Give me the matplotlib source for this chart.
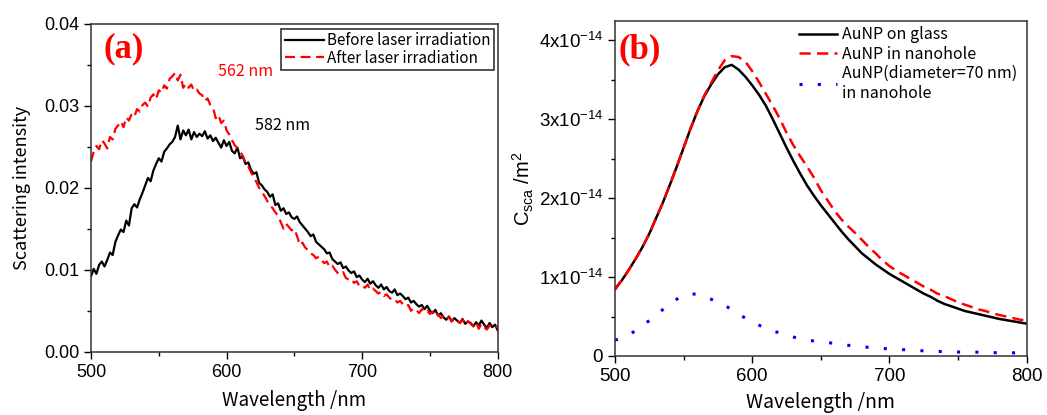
import numpy as np
import matplotlib
matplotlib.use("Agg")
import matplotlib.pyplot as plt
from matplotlib.ticker import MultipleLocator, FuncFormatter

# ---- panel (a): measured scattering spectra, 2 nm steps from 500 to 800 nm
wl_a = np.arange(500, 801, 2)
before = [
    .0092, .0101, .0095, .0106, .0110, .0104, .0112, .0121, .0118, .0134,
    .0142, .0149, .0146, .0160, .0154, .0175, .0180, .0176, .0186, .0194,
    .0203, .0212, .0208, .0221, .0229, .0236, .0232, .0244, .0248, .0253,
    .0256, .0262, .0276, .0259, .0270, .0264, .0271, .0259, .0268, .0262,
    .0266, .0263, .0269, .0260, .0264, .0257, .0261, .0255, .0249, .0258,
    .0251, .0256, .0245, .0242, .0249, .0236, .0238, .0229, .0231, .0222,
    .0217, .0219, .0206, .0203, .0198, .0195, .0189, .0192, .0179, .0181,
    .0172, .0175, .0168, .0170, .0164, .0162, .0165, .0158, .0154, .0150,
    .0146, .0141, .0143, .0134, .0131, .0128, .0125, .0120, .0121, .0113,
    .0110, .0107, .0109, .0102, .0104, .0099, .0096, .0098, .0091, .0093,
    .0088, .0085, .0089, .0083, .0086, .0081, .0078, .0082, .0076, .0079,
    .0074, .0072, .0076, .0069, .0071, .0068, .0064, .0066, .0060, .0062,
    .0058, .0055, .0057, .0052, .0056, .0050, .0047, .0051, .0044, .0047,
    .0042, .0039, .0043, .0037, .0041, .0038, .0035, .0040, .0034, .0037,
    .0035, .0031, .0036, .0032, .0038, .0033, .0029, .0035, .0030, .0033,
    .0026]
after = [
    .0232, .0244, .0251, .0247, .0258, .0254, .0248, .0262, .0259, .0272,
    .0276, .0281, .0274, .0286, .0282, .0290, .0287, .0296, .0293, .0301,
    .0304, .0299, .0310, .0314, .0308, .0319, .0316, .0325, .0321, .0333,
    .0336, .0340, .0331, .0338, .0322, .0327, .0322, .0326, .0318, .0320,
    .0315, .0313, .0306, .0309, .0301, .0298, .0285, .0289, .0279, .0282,
    .0270, .0265, .0258, .0252, .0248, .0244, .0239, .0230, .0226, .0219,
    .0213, .0207, .0200, .0195, .0190, .0184, .0179, .0175, .0170, .0166,
    .0158, .0150, .0156, .0152, .0148, .0150, .0141, .0130, .0133, .0127,
    .0124, .0120, .0118, .0114, .0116, .0112, .0108, .0110, .0103, .0105,
    .0100, .0096, .0094, .0097, .0090, .0088, .0089, .0084, .0086, .0080,
    .0081, .0078, .0082, .0075, .0077, .0074, .0071, .0073, .0068, .0070,
    .0066, .0063, .0064, .0060, .0062, .0058, .0055, .0057, .0050, .0053,
    .0051, .0047, .0052, .0048, .0050, .0046, .0049, .0043, .0046, .0041,
    .0044, .0040, .0042, .0037, .0041, .0038, .0035, .0039, .0033, .0037,
    .0034, .0031, .0036, .0028, .0034, .0030, .0027, .0032, .0029, .0031,
    .0030]

# ---- panel (b): calculated scattering cross sections (units of 1e-14 m^2), 5 nm steps
wl_b = np.arange(500, 801, 5)
on_glass = [
    .85, .96, 1.09, 1.23, 1.38, 1.55, 1.75, 1.95, 2.17, 2.40,
    2.64, 2.88, 3.10, 3.29, 3.44, 3.57, 3.66, 3.69, 3.63, 3.54,
    3.43, 3.31, 3.17, 3.00, 2.82, 2.64, 2.47, 2.31, 2.16, 2.03,
    1.91, 1.80, 1.69, 1.58, 1.48, 1.39, 1.30, 1.23, 1.16, 1.10,
    1.04, .99, .94, .89, .84, .79, .75, .70, .66, .63,
    .60, .57, .55, .53, .51, .49, .47, .455, .44, .425,
    .41]
in_hole = [
    .84, .96, 1.09, 1.23, 1.38, 1.55, 1.75, 1.95, 2.17, 2.40,
    2.64, 2.88, 3.10, 3.30, 3.46, 3.62, 3.75, 3.80, 3.79, 3.73,
    3.61, 3.47, 3.32, 3.17, 3.01, 2.83, 2.67, 2.53, 2.40, 2.26,
    2.10, 1.97, 1.84, 1.73, 1.64, 1.56, 1.47, 1.38, 1.30, 1.21,
    1.14, 1.08, 1.03, .98, .93, .88, .84, .79, .76, .72,
    .68, .65, .62, .59, .57, .54, .52, .50, .48, .46,
    .45]
d70_hole = [
    .20, .23, .27, .32, .38, .45, .52, .59, .66, .72,
    .77, .79, .78, .75, .72, .68, .64, .59, .53, .48,
    .43, .39, .35, .32, .29, .265, .24, .22, .20, .19,
    .18, .17, .16, .145, .135, .125, .115, .11, .10, .095,
    .09, .085, .08, .075, .07, .065, .06, .058, .055, .052,
    .05, .05, .05, .048, .045, .043, .04, .04, .04, .04,
    .04]

legend_a = ["Before laser irradiation", "After laser irradiation"]
legend_b = ["AuNP on glass", "AuNP in nanohole", "AuNP(diameter=70 nm)\nin nanohole"]
peaks_a = [(562, "red"), (582, "black")]

jp = ["Noto Sans CJK JP", "DejaVu Sans"]
plt.rcParams["font.family"] = ["Liberation Sans", "DejaVu Sans"]
plt.rcParams["mathtext.fontset"] = "custom"
plt.rcParams["mathtext.rm"] = "Liberation Sans"
plt.rcParams["mathtext.it"] = "Liberation Sans"

fig = plt.figure(figsize=(10.47, 4.15), dpi=100)
ax1 = fig.add_axes([0.0869, 0.1525, 0.3885, 0.790])
ax2 = fig.add_axes([0.5874, 0.1422, 0.3932, 0.808])

# panel (a)
ax1.plot(wl_a, before, color="black", lw=1.6, label=legend_a[0])
ax1.plot(wl_a, after, color="red", lw=1.6, dashes=(4.5, 2.5), label=legend_a[1])
ax1.set_xlim(500, 800)
ax1.set_ylim(0, 0.04)
ax1.xaxis.set_major_locator(MultipleLocator(100))
ax1.xaxis.set_minor_locator(MultipleLocator(50))
ax1.yaxis.set_major_locator(MultipleLocator(0.01))
ax1.yaxis.set_minor_locator(MultipleLocator(0.005))
ax1.yaxis.set_major_formatter(FuncFormatter(lambda v, p: "%.2f" % v))
ax1.set_xlabel("Wavelength /nm", family=jp, fontsize=13.5, labelpad=7)
ax1.set_ylabel("Scattering intensity", family=jp, fontsize=13, labelpad=9)
ax1.text(0.03, 0.924, "(a)", transform=ax1.transAxes, color="red", fontsize=25,
         family="Liberation Serif", fontweight="bold", va="center")
# peak labels sit to the upper right of each curve
ax1.text(0.313, 0.855, "%d nm" % peaks_a[0][0], color=peaks_a[0][1], fontsize=11.5,
         family=jp, ha="left", va="center", transform=ax1.transAxes)
ax1.text(0.403, 0.69, "%d nm" % peaks_a[1][0], color=peaks_a[1][1], fontsize=11.5,
         family=jp, ha="left", va="center", transform=ax1.transAxes)
leg1 = ax1.legend(loc="upper right", bbox_to_anchor=(0.998, 0.994), prop={"family": jp, "size": 11},
                  frameon=True, fancybox=False, edgecolor="black", handlelength=2.6,
                  handletextpad=0.2, borderpad=0.2, labelspacing=0.05, borderaxespad=0.2)
leg1.get_frame().set_linewidth(1.2)

# panel (b)
scale = 1e-14
ax2.plot(wl_b, np.array(on_glass) * scale, color="black", lw=1.8, label=legend_b[0])
ax2.plot(wl_b, np.array(in_hole) * scale, color="red", lw=1.8, dashes=(4.5, 2.5), label=legend_b[1])
ax2.plot(wl_b, np.array(d70_hole) * scale, color="blue", lw=2.2, dashes=(1, 5), label=legend_b[2])
ax2.set_xlim(500, 800)
ax2.set_ylim(0, 4.25e-14)
ax2.xaxis.set_major_locator(MultipleLocator(100))
ax2.xaxis.set_minor_locator(MultipleLocator(50))
ax2.yaxis.set_major_locator(MultipleLocator(1e-14))
ax2.yaxis.set_minor_locator(MultipleLocator(0.5e-14))


def sci(v, p):
    n = int(round(v / scale))
    if n == 0:
        return "0"
    return "%dx10$^{-14}$" % n


ax2.yaxis.set_major_formatter(FuncFormatter(sci))
ax2.set_xlabel("Wavelength /nm", family=jp, fontsize=14, labelpad=5)
ax2.set_ylabel("C$_{\\mathrm{sca}}$ /m$^{2}$", fontsize=14.5, labelpad=2)
ax2.text(0.008, 0.913, "(b)", transform=ax2.transAxes, color="red", fontsize=25,
         family="Liberation Serif", fontweight="bold", va="center")
ax2.legend(loc="upper right", bbox_to_anchor=(1.0, 1.012), prop={"family": jp, "size": 11.5},
           frameon=False, handlelength=2.4, handletextpad=0.3, labelspacing=0.15,
           borderaxespad=0.2)

for ax, fs in ((ax1, 13), (ax2, 13.5)):
    ax.tick_params(which="major", direction="out", length=5, width=1, labelsize=fs)
    ax.tick_params(which="minor", direction="out", length=3, width=1)
    for s in ax.spines.values():
        s.set_linewidth(1.1)
        s.set_color("#333333")

fig.savefig("out.png", dpi=100)
